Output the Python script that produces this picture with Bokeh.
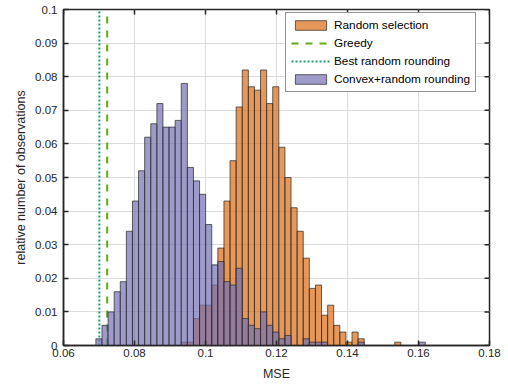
import numpy as np
from bokeh.plotting import figure
from bokeh.models import LinearAxis, FixedTicker, Legend, LegendItem, Range1d
from bokeh.embed import file_html
from bokeh.resources import INLINE

# Histogram bins (MSE), shared by both histograms
bin_start = 0.06912
bin_width = 0.001718

# Relative frequencies per bin
random_selection = [
    0, 0, 0, 0, 0, 0, 0, 0, 0, 0, 0, 0, 0, 0,
    0.001, 0.001, 0.008, 0.012, 0.012, 0.018, 0.029, 0.043, 0.055, 0.071,
    0.082, 0.077, 0.076, 0.082, 0.072, 0.077, 0.059, 0.050, 0.041, 0.034,
    0.026, 0.017, 0.018, 0.009, 0.012, 0.006, 0.004, 0.001, 0.004, 0.002,
    0, 0, 0, 0, 0, 0.001, 0, 0, 0, 0,
]
convex_rounding = [
    0.002, 0.006, 0.010, 0.016, 0.019, 0.034, 0.043, 0.052, 0.062, 0.066,
    0.072, 0.065, 0.065, 0.067, 0.078, 0.053, 0.049, 0.045, 0.036, 0.024,
    0.025, 0.019, 0.018, 0.023, 0.008, 0.006, 0.005, 0.010, 0.006, 0.004,
    0.002, 0.003, 0, 0, 0.002, 0.001, 0.001, 0.001, 0, 0,
    0, 0, 0, 0.001, 0, 0, 0, 0, 0, 0,
    0, 0, 0, 0.001,
]

# Single-value results
greedy_mse = 0.0723
best_random_mse = 0.0701

# Axes
x_limits = (0.06, 0.18)
y_limits = (0.0, 0.1)
x_ticks = [0.06, 0.08, 0.10, 0.12, 0.14, 0.16, 0.18]
x_tick_labels = ["0.06", "0.08", "0.1", "0.12", "0.14", "0.16", "0.18"]
y_ticks = [0.0, 0.01, 0.02, 0.03, 0.04, 0.05, 0.06, 0.07, 0.08, 0.09, 0.1]
y_tick_labels = ["0", "0.01", "0.02", "0.03", "0.04", "0.05", "0.06",
                 "0.07", "0.08", "0.09", "0.1"]

FONT = "Liberation Sans"
TEXT = "#262626"
ORANGE = "#d95f02"
PURPLE = "#7570b3"
GREEN = "#66a61e"
TEAL = "#1b9e77"

edges = bin_start + bin_width * np.arange(len(convex_rounding) + 1)

p = figure(width=508, height=390, output_backend="svg", toolbar_location=None,
           x_range=Range1d(*x_limits), y_range=Range1d(*y_limits),
           min_border_left=63, min_border_right=19, min_border_top=9,
           min_border_bottom=45, background_fill_color="white",
           border_fill_color="white")
p.xaxis.visible = False
p.yaxis.visible = False

r_rand = p.quad(left=edges[:-1], right=edges[1:], bottom=0, top=random_selection,
                fill_color=ORANGE, fill_alpha=0.65, line_color=TEXT,
                line_alpha=0.7, line_width=1)
r_greedy = p.line(x=[greedy_mse, greedy_mse], y=list(y_limits), line_color=GREEN,
                  line_width=2, line_dash="7 7")
r_best = p.line(x=[best_random_mse, best_random_mse], y=list(y_limits),
                line_color=TEAL, line_width=2, line_dash="2 2")
r_conv = p.quad(left=edges[:-1], right=edges[1:], bottom=0, top=convex_rounding,
                fill_color=PURPLE, fill_alpha=0.7, line_color=TEXT,
                line_alpha=0.7, line_width=1)


def styled_axis(ticks, labels, label):
    ax = LinearAxis(ticker=FixedTicker(ticks=ticks))
    ax.major_label_overrides = {t: l for t, l in zip(ticks, labels)}
    ax.axis_line_color = TEXT
    ax.axis_line_width = 1.5
    ax.major_tick_line_color = TEXT
    ax.major_tick_line_width = 1.5
    ax.major_tick_in = 5
    ax.major_tick_out = 0
    ax.minor_tick_in = 0
    ax.minor_tick_out = 0
    ax.major_label_text_font = FONT
    ax.major_label_text_color = TEXT
    ax.major_label_text_font_size = "11.5px"
    ax.axis_label = label
    ax.axis_label_text_font = FONT
    ax.axis_label_text_font_style = "normal"
    ax.axis_label_text_font_size = "12.5px"
    ax.axis_label_text_color = TEXT
    return ax


bottom_ax = styled_axis(x_ticks, x_tick_labels, "MSE")
bottom_ax.major_label_standoff = 3
bottom_ax.axis_label_standoff = 7
left_ax = styled_axis(y_ticks, y_tick_labels, "relative number of observations")
left_ax.major_label_standoff = 6
left_ax.axis_label_standoff = 4
p.add_layout(bottom_ax, "below")
p.add_layout(left_ax, "left")

# Inward tick marks on the top and right sides of the box
p.ray(x=x_ticks, y=[y_limits[1]] * len(x_ticks), length=5, length_units="screen",
      angle=-np.pi / 2, line_color=TEXT, line_width=1.5)
p.ray(x=[x_limits[1]] * len(y_ticks), y=y_ticks, length=5, length_units="screen",
      angle=np.pi, line_color=TEXT, line_width=1.5)

p.xgrid.ticker = FixedTicker(ticks=x_ticks)
p.ygrid.ticker = FixedTicker(ticks=y_ticks)
for g in (p.xgrid, p.ygrid):
    g.grid_line_color = "#dcdcdc"
    g.grid_line_width = 1

p.outline_line_color = TEXT
p.outline_line_width = 1.5

legend = Legend(items=[
    LegendItem(label="Random selection", renderers=[r_rand]),
    LegendItem(label="Greedy", renderers=[r_greedy]),
    LegendItem(label="Best random rounding", renderers=[r_best]),
    LegendItem(label="Convex+random rounding", renderers=[r_conv]),
], location=(222, 253))
legend.label_text_font = FONT
legend.label_text_font_size = "11.8px"
legend.label_text_color = "black"
legend.glyph_width = 39
legend.glyph_height = 12
legend.label_height = 12
legend.label_standoff = 4
legend.spacing = 4
legend.padding = 5
legend.margin = 0
legend.border_line_color = TEXT
legend.border_line_width = 1
legend.background_fill_color = "white"
legend.background_fill_alpha = 1
p.add_layout(legend)

open("out.html", "w").write(file_html(p, INLINE))
